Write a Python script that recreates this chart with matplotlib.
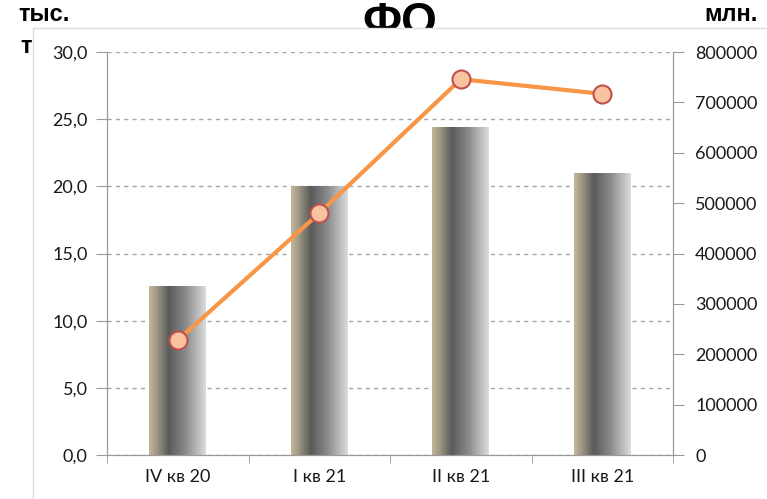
import numpy as np
import matplotlib.pyplot as plt
from matplotlib.patches import Rectangle
from matplotlib.colors import LinearSegmentedColormap

categories = ["IV кв 20", "I кв 21", "II кв 21", "III кв 21"]
bar_values = [12.6, 20.0, 24.4, 21.0]          # тыс. т
line_values = [228000, 480000, 746000, 717000]  # млн.

left_ticks = [0, 5, 10, 15, 20, 25, 30]
right_ticks = [0, 100000, 200000, 300000, 400000, 500000, 600000, 700000, 800000]

plt.rcParams['font.family'] = ['Lato', 'DejaVu Sans']

fig = plt.figure(figsize=(7.67, 4.99), dpi=100)

# title sits behind the frame, so its lower part is hidden
bold = ['Liberation Sans', 'DejaVu Sans']
fig.text(400 / 767, 1 - 1 / 499, "ФО", ha='center', va='top', fontsize=33, fontweight='bold',
         family=bold, zorder=0.5)
fig.text(18 / 767, 1 - 3 / 499, "тыс.", ha='left', va='top', fontsize=17, fontweight='bold',
         family=bold, zorder=0.5)
fig.text(20 / 767, 1 - 35 / 499, "т", ha='left', va='top', fontsize=17, fontweight='bold',
         family=bold, zorder=0.5)
fig.text(758 / 767, 1 - 3 / 499, "млн.", ha='right', va='top', fontsize=17, fontweight='bold',
         family=bold, zorder=0.5)

frame = Rectangle((33 / 767, -0.01), 1.0, 1 - 28 / 499 + 0.01, transform=fig.transFigure,
                  facecolor='white', edgecolor='#dedede', linewidth=1.0, zorder=1)
fig.patches.append(frame)

ax = fig.add_axes([107 / 767, 1 - 455 / 499, (673 - 107) / 767, (455 - 52) / 499])
ax.set_zorder(2)
ax2 = ax.twinx()
ax2.set_zorder(3)

x = np.arange(len(categories))
bars = ax.bar(x, bar_values, width=0.4, color='none', edgecolor='none', zorder=2)

grad = LinearSegmentedColormap.from_list(
    "bar", [(0.0, '#c4b79a'), (0.12, '#a39c88'), (0.35, '#5a5a5a'), (0.65, '#8c8c8c'), (1.0, '#dcdcdc')])
g = np.linspace(0, 1, 256).reshape(1, -1)
for b in bars:
    bx, by = b.get_x(), b.get_y()
    im = ax.imshow(g, cmap=grad, aspect='auto', extent=[bx, bx + b.get_width(), by, by + b.get_height()],
                   zorder=2, interpolation='bilinear')
    im.set_clip_path(b)

ax.set_xlim(-0.5, len(categories) - 0.5)
ax.set_ylim(0, 30)
ax.set_yticks(left_ticks)
ax.set_yticklabels([f"{v:.1f}".replace('.', ',') for v in left_ticks], fontsize=13, color='#1a1a1a')
ax.yaxis.grid(True, linestyle=(0, (3, 3)), color='#a6a6a6', linewidth=1.0, zorder=0)
ax.set_axisbelow(True)

ax.set_xticks(x)
ax.set_xticklabels(categories, fontsize=13, color='#1a1a1a')
ax.set_xticks(np.arange(len(categories) + 1) - 0.5, minor=True)
ax.tick_params(axis='x', which='major', length=0, pad=10)
ax.tick_params(axis='x', which='minor', length=6, color='#9a9a9a')
ax.tick_params(axis='y', length=8, color='#9a9a9a', pad=6)

for s in ['top']:
    ax.spines[s].set_visible(False)
    ax2.spines[s].set_visible(False)
for s in ['left', 'bottom', 'right']:
    ax.spines[s].set_color('#9a9a9a')
    ax2.spines[s].set_color('#9a9a9a')

ax2.plot(x, line_values, color='#f79646', linewidth=3, marker='o', markersize=13,
         markerfacecolor='#fac3a0', markeredgecolor='#c0504d', markeredgewidth=1.5, zorder=4)
ax2.set_ylim(0, 800000)
ax2.set_yticks(right_ticks)
ax2.set_yticklabels([str(v) for v in right_ticks], fontsize=13, color='#1a1a1a')
ax2.tick_params(axis='y', length=8, color='#9a9a9a', pad=8)

fig.savefig("out.png", dpi=100)
